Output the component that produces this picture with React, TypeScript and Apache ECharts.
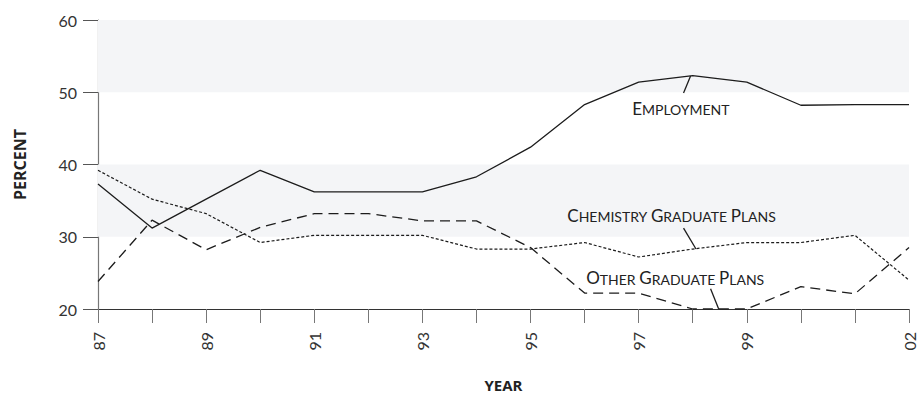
import React, { useEffect, useRef } from "react";
import * as echarts from "echarts";

const years = ["87", "88", "89", "90", "91", "92", "93", "94", "95", "96", "97", "98", "99", "00", "01", "02"];
const employment = [37.3, 31.2, 35.2, 39.2, 36.2, 36.2, 36.2, 38.3, 42.4, 48.3, 51.4, 52.3, 51.4, 48.2, 48.3, 48.3];
const chemistryPlans = [39.2, 35.2, 33.2, 29.2, 30.2, 30.2, 30.2, 28.3, 28.3, 29.2, 27.2, 28.3, 29.2, 29.2, 30.2, 24.0];
const otherPlans = [23.8, 32.3, 28.2, 31.3, 33.2, 33.2, 32.2, 32.2, 28.5, 22.2, 22.2, 20.0, 20.0, 23.1, 22.1, 28.5];
const yTicks = [20, 30, 40, 50, 60];
const shadedBands = [[30, 40], [50, 60]];

// annotation words, text anchor (x index, y value), leader line from/to
const annotations = [
  { words: ["Employment"], at: [9.88, 47.8], from: [10.96, 52.25], to: [10.83, 49.9] },
  { words: ["Chemistry", "Graduate", "Plans"], at: [8.68, 33.0], from: [10.83, 31.2], to: [11.06, 28.3] },
  { words: ["Other", "Graduate", "Plans"], at: [9.03, 24.3], from: [11.33, 22.8], to: [11.48, 20.0] },
];

const INK = "#1c1c1c";
const FONT = "Lato";

const smallCaps = (words: string[]) =>
  words
    .map((w) => `{a|${w.charAt(0).toUpperCase()}}{b|${w.slice(1).toUpperCase()}}`)
    .join("{b| }");

export default function App() {
  const ref = useRef<HTMLDivElement>(null);
  useEffect(() => {
    if (!ref.current) return;
    const chart = echarts.init(ref.current, undefined, { renderer: "svg" });
    const option: any = {
      animation: false,
      backgroundColor: "#ffffff",
      grid: { left: 98, right: 8, top: 20, bottom: 87, containLabel: false, outerBoundsMode: "none" },
      xAxis: {
        type: "category",
        data: years,
        boundaryGap: false,
        name: "YEAR",
        nameLocation: "middle",
        nameGap: 68,
        nameTextStyle: { fontFamily: "Open Sans", fontWeight: "bold", fontSize: 15, lineHeight: 15, color: "#222" },
        axisLine: { lineStyle: { color: "#333", width: 1.2 } },
        axisTick: { show: true, interval: 0, length: 14, inside: false, lineStyle: { color: "#777", width: 1 } },
        axisLabel: {
          interval: (i: number) => (i % 2 === 0 && i <= 12) || i === years.length - 1,
          rotate: 90,
          margin: 23,
          fontFamily: FONT,
          fontSize: 16,
          lineHeight: 16,
          color: "#333",
        },
        splitLine: { show: false },
      },
      yAxis: {
        type: "value",
        min: yTicks[0],
        max: yTicks[yTicks.length - 1],
        interval: 10,
        name: "PERCENT",
        nameLocation: "middle",
        nameGap: 70,
        nameRotate: 90,
        nameTextStyle: { fontFamily: "Open Sans", fontWeight: "bold", fontSize: 16, color: "#222" },
        axisLine: { show: true, lineStyle: { color: "#777", width: 1.2 } },
        axisTick: { show: true, length: 15, lineStyle: { color: "#555", width: 1 } },
        axisLabel: { margin: 21, fontFamily: FONT, fontSize: 16, color: "#333" },
        splitLine: { show: false },
      },
      series: [
        {
          name: "Employment",
          type: "line",
          data: employment,
          symbol: "none",
          lineStyle: { color: INK, width: 1.3, type: "solid" },
          z: 5,
          markArea: {
            silent: true,
            itemStyle: { color: "#f4f5f7" },
            data: shadedBands.map(([a, b]) => [{ yAxis: a }, { yAxis: b }]),
          },
        },
        {
          name: "Chemistry Graduate Plans",
          type: "line",
          data: chemistryPlans,
          symbol: "none",
          lineStyle: { color: INK, width: 1.2, type: [3, 2] },
          z: 4,
        },
        {
          name: "Other Graduate Plans",
          type: "line",
          data: otherPlans,
          symbol: "none",
          lineStyle: { color: INK, width: 1.3, type: [10, 6] },
          z: 4,
        },
      ],
    };
    chart.setOption(option);

    const toPx = (xi: number, y: number) => {
      const i0 = Math.max(0, Math.min(years.length - 2, Math.floor(xi)));
      const t = xi - i0;
      const p0 = chart.convertToPixel({ gridIndex: 0 }, [i0, y]) as number[];
      const p1 = chart.convertToPixel({ gridIndex: 0 }, [i0 + 1, y]) as number[];
      return [p0[0] + (p1[0] - p0[0]) * t, p0[1]];
    };

    const rich = {
      a: { fontFamily: FONT, fontSize: 17, color: "#222", verticalAlign: "bottom" },
      b: { fontFamily: FONT, fontSize: 14, color: "#222", verticalAlign: "bottom" },
    };
    const elements: any[] = [];
    annotations.forEach((an) => {
      const p = toPx(an.at[0], an.at[1]);
      const f = toPx(an.from[0], an.from[1]);
      const t = toPx(an.to[0], an.to[1]);
      elements.push({
        type: "line",
        shape: { x1: f[0], y1: f[1], x2: t[0], y2: t[1] },
        style: { stroke: INK, lineWidth: 1.3 },
        z: 10,
      });
      elements.push({
        type: "text",
        x: p[0],
        y: p[1],
        z: 10,
        style: {
          text: smallCaps(an.words),
          rich,
          align: "left",
          verticalAlign: "middle",
          fill: "#222",
        },
      });
    });
    chart.setOption({ graphic: { elements } });

    return () => chart.dispose();
  }, []);
  return <div ref={ref} style={{ width: 917, height: 396, position: "absolute", left: 0, top: 0 }} />;
}
